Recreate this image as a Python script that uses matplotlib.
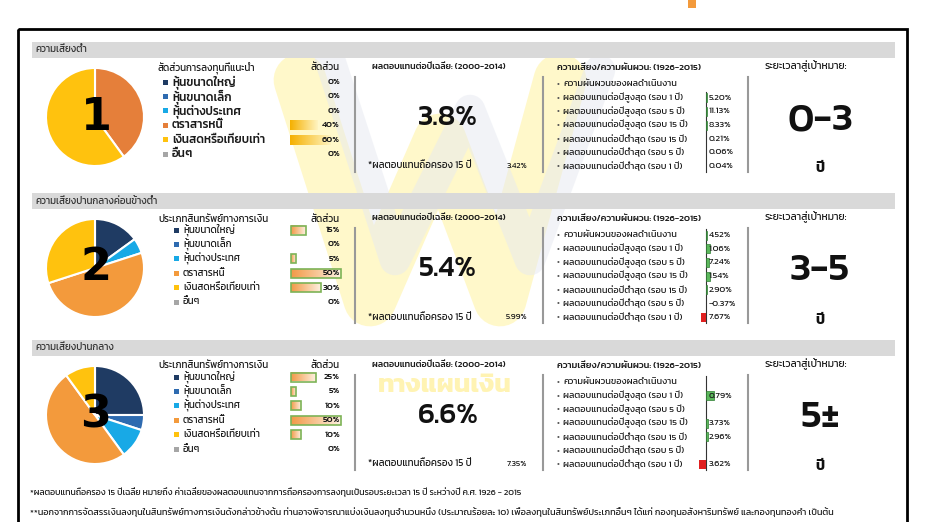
import numpy as np
import matplotlib
matplotlib.use('Agg')
import matplotlib.pyplot as plt
from matplotlib import font_manager as fm
from matplotlib.colors import LinearSegmentedColormap
from matplotlib.patches import Rectangle

# ---- data ----
section_titles = ['ความเสี่ยงต่ำ', 'ความเสี่ยงปานกลางค่อนข้างต่ำ', 'ความเสี่ยงปานกลาง']
pie_labels = ['1', '2', '3']
legend_titles = ['สัดส่วนการลงทุนที่แนะนำ', 'ประเภทสินทรัพย์ทางการเงิน', 'ประเภทสินทรัพย์ทางการเงิน']
categories = ['หุ้นขนาดใหญ่', 'หุ้นขนาดเล็ก', 'หุ้นต่างประเทศ', 'ตราสารหนี้', 'เงินสดหรือเทียบเท่า', 'อื่นๆ']
alloc1 = [0, 0, 0, 40, 60, 0]
alloc2 = [15, 0, 5, 50, 30, 0]
alloc3 = [25, 5, 10, 50, 10, 0]
avg_return = ['3.8%', '5.4%', '6.6%']
hold15 = ['3.42%', '5.99%', '7.35%']
risk_items = ['ความผันผวนของผลดำเนินงาน',
              'ผลตอบแทนต่อปีสูงสุด (รอบ 1 ปี)',
              'ผลตอบแทนต่อปีสูงสุด (รอบ 5 ปี)',
              'ผลตอบแทนต่อปีสูงสุด (รอบ 15 ปี)',
              'ผลตอบแทนต่อปีต่ำสุด (รอบ 15 ปี)',
              'ผลตอบแทนต่อปีต่ำสุด (รอบ 5 ปี)',
              'ผลตอบแทนต่อปีต่ำสุด (รอบ 1 ปี)']
risk1 = ['', '5.20%', '11.13%', '8.33%', '0.21%', '0.06%', '0.04%']
risk2 = ['4.52%', '1.06%', '7.24%', '1.54%', '2.90%', '-0.37%', '7.67%']
risk3 = ['', '0.79%', '', '3.73%', '2.96%', '', '3.62%']
riskbar1 = [0, 1.5, 1.5, 1.5, 0, 0, 0]
riskbar2 = [1, 4, 3, 4, 1, 0, -5]
riskbar3 = [0, 8, 0, 2, 2, 0, -7]
targets = ['0-3', '3-5', '5±']
footnotes = ['*ผลตอบแทนถือครอง 15 ปีเฉลี่ย หมายถึง ค่าเฉลี่ยของผลตอบแทนจากการถือครองการลงทุนเป็นรอบระยะเวลา 15 ปี ระหว่างปี ค.ศ. 1926 - 2015',
             '**นอกจากการจัดสรรเงินลงทุนในสินทรัพย์ทางการเงินดังกล่าวข้างต้น ท่านอาจพิจารณาแบ่งเงินลงทุนจำนวนหนึ่ง (ประมาณร้อยละ 10) เพื่อลงทุนในสินทรัพย์ประเภทอื่นๆ ได้แก่ กองทุนอสังหาริมทรัพย์ และกองทุนทองคำ เป็นต้น']

allocs = [alloc1, alloc2, alloc3]
risks = [risk1, risk2, risk3]
riskbars = [riskbar1, riskbar2, riskbar3]

# ---- fonts ----
names = set(f.name for f in fm.fontManager.ttflist)
TH = 'DejaVu Sans'
for cand in ['Kanit', 'Prompt', 'Noto Sans Thai', 'Sarabun', 'Bai Jamjuree']:
    if cand in names:
        TH = cand
        break
FAM = [TH, 'DejaVu Sans']
plt.rcParams['font.family'] = FAM

pie_cols = ['#1f3b63', '#2e6bb0', '#18a9e6', '#f39a3c', '#ffc20e', '#a6a6a6']
pie_cols1 = ['#1f3b63', '#2e6bb0', '#18a9e6', '#e57f3a', '#ffc20e', '#a6a6a6']

fig = plt.figure(figsize=(9.29, 5.22), dpi=100)
ax = fig.add_axes([0, 0, 1, 1])
ax.set_xlim(0, 929)
ax.set_ylim(522, 0)
ax.axis('off')

# watermark (logo behind the table)
ax.plot([300, 370, 440, 500, 560], [80, 300, 140, 300, 80], color='#fff3a0', lw=38,
        alpha=0.55, solid_capstyle='round', solid_joinstyle='round', zorder=0)
ax.plot([330, 395, 470, 530, 600], [60, 260, 110, 260, 70], color='#e6e9f1', lw=22,
        alpha=0.5, solid_capstyle='round', solid_joinstyle='round', zorder=0)
ax.text(445, 386, 'ทางแผนเงิน', fontsize=19, fontweight='bold', color='#fff1a0',
        alpha=0.8, ha='center', va='center', zorder=0)

# frame
ax.add_patch(Rectangle((18, 29), 889, 520, fill=False, ec='black', lw=2, zorder=5))
ax.add_patch(Rectangle((688, 0), 8, 8, color='#f39a3c', lw=0))

headers = [42, 193, 340]

def grad_bar(x0, yc, w, h, c0, c1, edge=None):
    if w <= 0:
        return
    cmap = LinearSegmentedColormap.from_list('g', [c0, c1])
    ax.imshow(np.linspace(0, 1, 64).reshape(1, -1), cmap=cmap, aspect='auto',
              extent=[x0, x0 + w, yc + h / 2, yc - h / 2], zorder=2)
    if edge:
        ax.add_patch(Rectangle((x0, yc - h / 2), w, h, fill=False, ec=edge, lw=1.2, zorder=3))

for p in range(3):
    yh = headers[p]
    # header bar
    ax.add_patch(Rectangle((32, yh), 863, 16, color='#d9d9d9', lw=0, zorder=1))
    ax.text(35, yh + 8, section_titles[p], fontsize=7, color='#333333', va='center', zorder=4)

    # pie
    vals = allocs[p]
    cols = pie_cols1 if p == 0 else pie_cols
    pv = [v for v in vals if v > 0]
    pc = [c for v, c in zip(vals, cols) if v > 0]
    cy = yh + 75
    pax = fig.add_axes([45 / 929, 1 - (cy + 50) / 522, 100 / 929, 100 / 522])
    pax.pie(pv, colors=pc, startangle=90, counterclock=False,
            wedgeprops=dict(edgecolor='white', linewidth=1.5))
    pax.set_xlim(-1.02, 1.02)
    pax.set_ylim(-1.02, 1.02)
    pax.text(0.02, -0.0, pie_labels[p], fontsize=32, fontweight='black', family='DejaVu Sans',
             ha='center', va='center', color='black')

    # legend + allocation column
    ly0 = yh + (40 if p == 0 else 37)
    sx = 163 if p == 0 else 174
    fs = 8.5 if p == 0 else 7
    ax.text(158, yh + 26, legend_titles[p], fontsize=7, va='center', color='#1a1a1a')
    ax.text(340, yh + 26, 'สัดส่วน', fontsize=7, va='center', ha='right', color='#1a1a1a')
    for i, cat in enumerate(categories):
        y = ly0 + 14.4 * i
        ax.add_patch(Rectangle((sx, y - 2.5), 5, 5, color=cols[i], lw=0, zorder=3))
        ax.text(sx + 9, y, cat, fontsize=fs, fontweight='medium' if p == 0 else 'normal',
                va='center', color='#1a1a1a', zorder=4)
        if p == 0:
            grad_bar(290, y, vals[i] * 0.68, 10, '#f5b000', '#fff4c0')
        else:
            grad_bar(291, y, vals[i] * 1.0, 9, '#f29a48', '#fdf0e0', edge='#7db356')
        ax.text(340, y, '%d%%' % vals[i], fontsize=6.5, fontweight='medium', va='center', ha='right',
                color='#1a1a1a', zorder=4)
    ax.plot([355, 355], [yh + 35, yh + 130], color='#999999', lw=1.5, zorder=3)

    # average return
    ax.text(372, yh + 25, 'ผลตอบแทนต่อปีเฉลี่ย: (2000-2014)', fontsize=6.4, fontweight='medium',
            va='center', color='#1a1a1a')
    ax.text(448, yh + 76, avg_return[p], fontsize=21, fontweight='medium', va='center', ha='center',
            color='#111111')
    ax.text(368, yh + 124, '*ผลตอบแทนถือครอง 15 ปี', fontsize=7, va='center', color='#1a1a1a')
    ax.text(527, yh + 124, hold15[p], fontsize=6, va='center', ha='right', color='#1a1a1a')
    ax.plot([543, 543], [yh + 35, yh + 130], color='#999999', lw=1.5, zorder=3)

    # risk / volatility
    ax.text(557, yh + 26, 'ความเสี่ยง/ความผันผวน: (1926-2015)', fontsize=6.7, fontweight='medium',
            va='center', color='#1a1a1a')
    ry0 = yh + 42
    rb = riskbars[p]
    ax.plot([706, 706], [ry0 - 6 + (14 if p == 0 else 0), ry0 + 13.7 * 6 + 6], color='#333333',
            lw=0.8, zorder=3)
    for i, item in enumerate(risk_items):
        y = ry0 + 13.7 * i
        ax.text(557, y, '•', fontsize=6, va='center', color='#555555')
        ax.text(563, y, item, fontsize=6.6, va='center', color='#1a1a1a')
        if rb[i] > 0:
            ax.add_patch(Rectangle((706, y - 4.5), rb[i], 9, color='#5cb85c', ec='#2e7d32', lw=0.5, zorder=3))
        elif rb[i] < 0:
            ax.add_patch(Rectangle((706 + rb[i], y - 4.5), -rb[i], 9, color='#e02020', lw=0, zorder=3))
        ax.text(709, y, risks[p][i], fontsize=6.5, va='center', color='#1a1a1a', zorder=4)
    ax.plot([748, 748], [yh + 35, yh + 130], color='#999999', lw=1.5, zorder=3)

    # target horizon
    ax.text(765, yh + 24, 'ระยะเวลาสู่เป้าหมาย:', fontsize=7.5, va='center', color='#1a1a1a')
    ax.text(820, yh + 78, targets[p], fontsize=29, fontweight='medium', va='center', ha='center',
            color='#111111')
    ax.text(820, yh + 127, 'ปี', fontsize=10, fontweight='bold', va='center', ha='center', color='#111111')

ax.text(30, 492, footnotes[0], fontsize=6.3, va='center', color='#1a1a1a')
ax.text(30, 512, footnotes[1], fontsize=6.5, va='center', color='#1a1a1a')

fig.savefig('out.png', dpi=100)
